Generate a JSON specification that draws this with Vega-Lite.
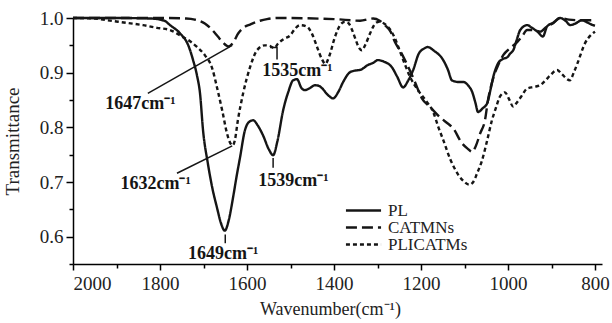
{
  "$schema": "https://vega.github.io/schema/vega-lite/v6.json",
  "width": 529,
  "height": 246,
  "autosize": {"type": "none"},
  "padding": {"left": 73, "top": 18, "right": 10, "bottom": 59},
  "background": "white",
  "config": {
    "view": {"stroke": null},
    "axis": {"grid": false, "labelFont": "Liberation Serif", "titleFont": "Liberation Serif", "titleFontWeight": "normal"}
  },
  "datasets": {
    "series": [
      {"w": 2000, "t": 1.0, "s": "PL"}, {"w": 1900, "t": 1.0, "s": "PL"}, {"w": 1820, "t": 0.999, "s": "PL"}, {"w": 1790, "t": 0.995, "s": "PL"}, {"w": 1777, "t": 0.987, "s": "PL"}, {"w": 1754, "t": 0.972, "s": "PL"}, {"w": 1735, "t": 0.95, "s": "PL"}, {"w": 1724, "t": 0.923, "s": "PL"}, {"w": 1715, "t": 0.895, "s": "PL"}, {"w": 1708, "t": 0.862, "s": "PL"}, {"w": 1701, "t": 0.794, "s": "PL"}, {"w": 1690, "t": 0.734, "s": "PL"}, {"w": 1680, "t": 0.69, "s": "PL"}, {"w": 1669, "t": 0.653, "s": "PL"}, {"w": 1660, "t": 0.625, "s": "PL"}, {"w": 1651, "t": 0.611, "s": "PL"}, {"w": 1642, "t": 0.63, "s": "PL"}, {"w": 1632, "t": 0.672, "s": "PL"}, {"w": 1624, "t": 0.71, "s": "PL"}, {"w": 1616, "t": 0.745, "s": "PL"}, {"w": 1605, "t": 0.794, "s": "PL"}, {"w": 1595, "t": 0.81, "s": "PL"}, {"w": 1586, "t": 0.813, "s": "PL"}, {"w": 1575, "t": 0.803, "s": "PL"}, {"w": 1563, "t": 0.785, "s": "PL"}, {"w": 1550, "t": 0.76, "s": "PL"}, {"w": 1540, "t": 0.749, "s": "PL"}, {"w": 1530, "t": 0.775, "s": "PL"}, {"w": 1517, "t": 0.831, "s": "PL"}, {"w": 1505, "t": 0.865, "s": "PL"}, {"w": 1494, "t": 0.886, "s": "PL"}, {"w": 1485, "t": 0.888, "s": "PL"}, {"w": 1475, "t": 0.872, "s": "PL"}, {"w": 1467, "t": 0.868, "s": "PL"}, {"w": 1455, "t": 0.872, "s": "PL"}, {"w": 1444, "t": 0.877, "s": "PL"}, {"w": 1435, "t": 0.876, "s": "PL"}, {"w": 1428, "t": 0.872, "s": "PL"}, {"w": 1415, "t": 0.86, "s": "PL"}, {"w": 1402, "t": 0.853, "s": "PL"}, {"w": 1390, "t": 0.865, "s": "PL"}, {"w": 1379, "t": 0.883, "s": "PL"}, {"w": 1363, "t": 0.901, "s": "PL"}, {"w": 1350, "t": 0.904, "s": "PL"}, {"w": 1340, "t": 0.905, "s": "PL"}, {"w": 1322, "t": 0.914, "s": "PL"}, {"w": 1310, "t": 0.918, "s": "PL"}, {"w": 1299, "t": 0.923, "s": "PL"}, {"w": 1285, "t": 0.92, "s": "PL"}, {"w": 1267, "t": 0.91, "s": "PL"}, {"w": 1255, "t": 0.893, "s": "PL"}, {"w": 1241, "t": 0.873, "s": "PL"}, {"w": 1230, "t": 0.885, "s": "PL"}, {"w": 1218, "t": 0.905, "s": "PL"}, {"w": 1205, "t": 0.935, "s": "PL"}, {"w": 1191, "t": 0.945, "s": "PL"}, {"w": 1185, "t": 0.947, "s": "PL"}, {"w": 1170, "t": 0.94, "s": "PL"}, {"w": 1149, "t": 0.923, "s": "PL"}, {"w": 1138, "t": 0.905, "s": "PL"}, {"w": 1129, "t": 0.886, "s": "PL"}, {"w": 1115, "t": 0.883, "s": "PL"}, {"w": 1103, "t": 0.883, "s": "PL"}, {"w": 1090, "t": 0.875, "s": "PL"}, {"w": 1083, "t": 0.866, "s": "PL"}, {"w": 1075, "t": 0.845, "s": "PL"}, {"w": 1069, "t": 0.828, "s": "PL"}, {"w": 1058, "t": 0.835, "s": "PL"}, {"w": 1048, "t": 0.844, "s": "PL"}, {"w": 1040, "t": 0.87, "s": "PL"}, {"w": 1034, "t": 0.892, "s": "PL"}, {"w": 1023, "t": 0.917, "s": "PL"}, {"w": 1012, "t": 0.925, "s": "PL"}, {"w": 1002, "t": 0.928, "s": "PL"}, {"w": 995, "t": 0.935, "s": "PL"}, {"w": 988, "t": 0.941, "s": "PL"}, {"w": 980, "t": 0.96, "s": "PL"}, {"w": 972, "t": 0.978, "s": "PL"}, {"w": 956, "t": 0.987, "s": "PL"}, {"w": 945, "t": 0.982, "s": "PL"}, {"w": 931, "t": 0.974, "s": "PL"}, {"w": 920, "t": 0.966, "s": "PL"}, {"w": 910, "t": 0.985, "s": "PL"}, {"w": 897, "t": 0.991, "s": "PL"}, {"w": 880, "t": 1.0, "s": "PL"}, {"w": 868, "t": 0.995, "s": "PL"}, {"w": 857, "t": 0.987, "s": "PL"}, {"w": 845, "t": 0.99, "s": "PL"}, {"w": 830, "t": 0.996, "s": "PL"}, {"w": 818, "t": 0.992, "s": "PL"}, {"w": 805, "t": 0.987, "s": "PL"}, {"w": 800, "t": 0.986, "s": "PL"},
      {"w": 2000, "t": 1.0, "s": "CATMNs"}, {"w": 1800, "t": 1.0, "s": "CATMNs"}, {"w": 1740, "t": 0.999, "s": "CATMNs"}, {"w": 1720, "t": 0.997, "s": "CATMNs"}, {"w": 1697, "t": 0.99, "s": "CATMNs"}, {"w": 1680, "t": 0.978, "s": "CATMNs"}, {"w": 1667, "t": 0.966, "s": "CATMNs"}, {"w": 1655, "t": 0.955, "s": "CATMNs"}, {"w": 1643, "t": 0.948, "s": "CATMNs"}, {"w": 1632, "t": 0.955, "s": "CATMNs"}, {"w": 1620, "t": 0.972, "s": "CATMNs"}, {"w": 1605, "t": 0.984, "s": "CATMNs"}, {"w": 1593, "t": 0.988, "s": "CATMNs"}, {"w": 1570, "t": 0.995, "s": "CATMNs"}, {"w": 1554, "t": 0.998, "s": "CATMNs"}, {"w": 1530, "t": 1.0, "s": "CATMNs"}, {"w": 1400, "t": 0.998, "s": "CATMNs"}, {"w": 1340, "t": 0.995, "s": "CATMNs"}, {"w": 1310, "t": 0.999, "s": "CATMNs"}, {"w": 1295, "t": 0.995, "s": "CATMNs"}, {"w": 1283, "t": 0.987, "s": "CATMNs"}, {"w": 1270, "t": 0.975, "s": "CATMNs"}, {"w": 1260, "t": 0.956, "s": "CATMNs"}, {"w": 1248, "t": 0.94, "s": "CATMNs"}, {"w": 1237, "t": 0.923, "s": "CATMNs"}, {"w": 1225, "t": 0.903, "s": "CATMNs"}, {"w": 1214, "t": 0.883, "s": "CATMNs"}, {"w": 1198, "t": 0.853, "s": "CATMNs"}, {"w": 1179, "t": 0.837, "s": "CATMNs"}, {"w": 1156, "t": 0.818, "s": "CATMNs"}, {"w": 1140, "t": 0.808, "s": "CATMNs"}, {"w": 1126, "t": 0.798, "s": "CATMNs"}, {"w": 1106, "t": 0.771, "s": "CATMNs"}, {"w": 1093, "t": 0.761, "s": "CATMNs"}, {"w": 1082, "t": 0.755, "s": "CATMNs"}, {"w": 1074, "t": 0.766, "s": "CATMNs"}, {"w": 1064, "t": 0.789, "s": "CATMNs"}, {"w": 1053, "t": 0.813, "s": "CATMNs"}, {"w": 1046, "t": 0.85, "s": "CATMNs"}, {"w": 1034, "t": 0.89, "s": "CATMNs"}, {"w": 1022, "t": 0.915, "s": "CATMNs"}, {"w": 1011, "t": 0.932, "s": "CATMNs"}, {"w": 995, "t": 0.945, "s": "CATMNs"}, {"w": 979, "t": 0.956, "s": "CATMNs"}, {"w": 968, "t": 0.966, "s": "CATMNs"}, {"w": 956, "t": 0.978, "s": "CATMNs"}, {"w": 940, "t": 0.978, "s": "CATMNs"}, {"w": 926, "t": 0.975, "s": "CATMNs"}, {"w": 910, "t": 0.985, "s": "CATMNs"}, {"w": 897, "t": 0.99, "s": "CATMNs"}, {"w": 880, "t": 1.0, "s": "CATMNs"}, {"w": 860, "t": 0.997, "s": "CATMNs"}, {"w": 840, "t": 0.996, "s": "CATMNs"}, {"w": 820, "t": 0.996, "s": "CATMNs"}, {"w": 800, "t": 0.996, "s": "CATMNs"},
      {"w": 2000, "t": 1.0, "s": "PLICATMs"}, {"w": 1950, "t": 0.999, "s": "PLICATMs"}, {"w": 1922, "t": 0.996, "s": "PLICATMs"}, {"w": 1876, "t": 0.991, "s": "PLICATMs"}, {"w": 1839, "t": 0.987, "s": "PLICATMs"}, {"w": 1807, "t": 0.982, "s": "PLICATMs"}, {"w": 1777, "t": 0.978, "s": "PLICATMs"}, {"w": 1747, "t": 0.965, "s": "PLICATMs"}, {"w": 1730, "t": 0.957, "s": "PLICATMs"}, {"w": 1715, "t": 0.947, "s": "PLICATMs"}, {"w": 1697, "t": 0.932, "s": "PLICATMs"}, {"w": 1680, "t": 0.908, "s": "PLICATMs"}, {"w": 1669, "t": 0.873, "s": "PLICATMs"}, {"w": 1657, "t": 0.831, "s": "PLICATMs"}, {"w": 1646, "t": 0.789, "s": "PLICATMs"}, {"w": 1639, "t": 0.772, "s": "PLICATMs"}, {"w": 1633, "t": 0.767, "s": "PLICATMs"}, {"w": 1628, "t": 0.776, "s": "PLICATMs"}, {"w": 1621, "t": 0.813, "s": "PLICATMs"}, {"w": 1609, "t": 0.862, "s": "PLICATMs"}, {"w": 1593, "t": 0.91, "s": "PLICATMs"}, {"w": 1577, "t": 0.941, "s": "PLICATMs"}, {"w": 1559, "t": 0.95, "s": "PLICATMs"}, {"w": 1548, "t": 0.949, "s": "PLICATMs"}, {"w": 1537, "t": 0.945, "s": "PLICATMs"}, {"w": 1529, "t": 0.953, "s": "PLICATMs"}, {"w": 1515, "t": 0.962, "s": "PLICATMs"}, {"w": 1501, "t": 0.968, "s": "PLICATMs"}, {"w": 1490, "t": 0.98, "s": "PLICATMs"}, {"w": 1478, "t": 0.987, "s": "PLICATMs"}, {"w": 1462, "t": 0.984, "s": "PLICATMs"}, {"w": 1450, "t": 0.97, "s": "PLICATMs"}, {"w": 1439, "t": 0.947, "s": "PLICATMs"}, {"w": 1428, "t": 0.925, "s": "PLICATMs"}, {"w": 1420, "t": 0.916, "s": "PLICATMs"}, {"w": 1411, "t": 0.93, "s": "PLICATMs"}, {"w": 1398, "t": 0.965, "s": "PLICATMs"}, {"w": 1385, "t": 0.988, "s": "PLICATMs"}, {"w": 1375, "t": 0.993, "s": "PLICATMs"}, {"w": 1366, "t": 0.99, "s": "PLICATMs"}, {"w": 1358, "t": 0.977, "s": "PLICATMs"}, {"w": 1350, "t": 0.96, "s": "PLICATMs"}, {"w": 1343, "t": 0.946, "s": "PLICATMs"}, {"w": 1336, "t": 0.941, "s": "PLICATMs"}, {"w": 1328, "t": 0.951, "s": "PLICATMs"}, {"w": 1317, "t": 0.972, "s": "PLICATMs"}, {"w": 1305, "t": 0.99, "s": "PLICATMs"}, {"w": 1297, "t": 0.993, "s": "PLICATMs"}, {"w": 1285, "t": 0.99, "s": "PLICATMs"}, {"w": 1272, "t": 0.98, "s": "PLICATMs"}, {"w": 1260, "t": 0.963, "s": "PLICATMs"}, {"w": 1248, "t": 0.938, "s": "PLICATMs"}, {"w": 1236, "t": 0.913, "s": "PLICATMs"}, {"w": 1225, "t": 0.892, "s": "PLICATMs"}, {"w": 1207, "t": 0.868, "s": "PLICATMs"}, {"w": 1190, "t": 0.85, "s": "PLICATMs"}, {"w": 1172, "t": 0.828, "s": "PLICATMs"}, {"w": 1160, "t": 0.8, "s": "PLICATMs"}, {"w": 1149, "t": 0.777, "s": "PLICATMs"}, {"w": 1133, "t": 0.742, "s": "PLICATMs"}, {"w": 1115, "t": 0.714, "s": "PLICATMs"}, {"w": 1100, "t": 0.7, "s": "PLICATMs"}, {"w": 1089, "t": 0.695, "s": "PLICATMs"}, {"w": 1080, "t": 0.7, "s": "PLICATMs"}, {"w": 1071, "t": 0.716, "s": "PLICATMs"}, {"w": 1060, "t": 0.739, "s": "PLICATMs"}, {"w": 1048, "t": 0.776, "s": "PLICATMs"}, {"w": 1037, "t": 0.813, "s": "PLICATMs"}, {"w": 1029, "t": 0.833, "s": "PLICATMs"}, {"w": 1018, "t": 0.857, "s": "PLICATMs"}, {"w": 1007, "t": 0.864, "s": "PLICATMs"}, {"w": 998, "t": 0.852, "s": "PLICATMs"}, {"w": 988, "t": 0.838, "s": "PLICATMs"}, {"w": 980, "t": 0.845, "s": "PLICATMs"}, {"w": 970, "t": 0.856, "s": "PLICATMs"}, {"w": 956, "t": 0.871, "s": "PLICATMs"}, {"w": 940, "t": 0.874, "s": "PLICATMs"}, {"w": 926, "t": 0.877, "s": "PLICATMs"}, {"w": 915, "t": 0.885, "s": "PLICATMs"}, {"w": 903, "t": 0.895, "s": "PLICATMs"}, {"w": 887, "t": 0.905, "s": "PLICATMs"}, {"w": 876, "t": 0.897, "s": "PLICATMs"}, {"w": 858, "t": 0.886, "s": "PLICATMs"}, {"w": 849, "t": 0.9, "s": "PLICATMs"}, {"w": 840, "t": 0.918, "s": "PLICATMs"}, {"w": 823, "t": 0.954, "s": "PLICATMs"}, {"w": 808, "t": 0.97, "s": "PLICATMs"}, {"w": 800, "t": 0.975, "s": "PLICATMs"}
    ],
    "leaders": [
      {"id": "a", "k": 1, "w": 1828, "t": 0.862}, {"id": "a", "k": 2, "w": 1634, "t": 0.95},
      {"id": "b", "k": 1, "w": 1761, "t": 0.716}, {"id": "b", "k": 2, "w": 1634, "t": 0.766},
      {"id": "c", "k": 1, "w": 1650, "t": 0.604}, {"id": "c", "k": 2, "w": 1650, "t": 0.588},
      {"id": "d", "k": 1, "w": 1540, "t": 0.744}, {"id": "d", "k": 2, "w": 1540, "t": 0.726},
      {"id": "e", "k": 1, "w": 1547, "t": 0.946}, {"id": "e", "k": 2, "w": 1531, "t": 0.946}, {"id": "e", "k": 3, "w": 1531, "t": 0.924}
    ],
    "labels": [
      {"label": "1647cm⁻¹", "w": 1845, "t": 0.842},
      {"label": "1632cm⁻¹", "w": 1810, "t": 0.697},
      {"label": "1649cm⁻¹", "w": 1655, "t": 0.568},
      {"label": "1539cm⁻¹", "w": 1493, "t": 0.702},
      {"label": "1535cm⁻¹", "w": 1484, "t": 0.903}
    ]
  },
  "layer": [
    {
      "data": {"name": "series"},
      "mark": {"type": "line", "strokeWidth": 2.4, "color": "#151515", "interpolate": "monotone"},
      "encoding": {
        "x": {"field": "w", "type": "quantitative", "scale": {"domain": [784, 2000], "reverse": true, "nice": false, "zero": false},
              "axis": {"orient": "bottom", "values": [2000, 1800, 1600, 1400, 1200, 1000, 800], "format": "d", "domainColor": "black", "domainWidth": 1.5, "tickColor": "black", "tickWidth": 1.5,
                       "tickSize": 6, "labelPadding": 4, "labelFontSize": 19, "labelColor": "#222", "title": "Wavenumber(cm⁻¹)", "titleColor": "#222", "titleFontSize": 18, "titleX": 257, "titleY": 50, "titleBaseline": "alphabetic"}},
        "y": {"field": "t", "type": "quantitative", "scale": {"domain": [0.55, 1.0], "nice": false, "zero": false},
              "axis": {"orient": "left", "values": [0.6, 0.7, 0.8, 0.9, 1.0], "format": ".1f", "domainColor": "black", "domainWidth": 1.5, "tickColor": "black", "tickWidth": 1.5,
                       "tickSize": 7, "labelPadding": 3, "labelFontSize": 19, "labelColor": "#222", "title": "Transmittance", "titleColor": "#222", "titleFontSize": 19, "titleX": -61, "titleY": 123, "titleBaseline": "middle"}},
        "strokeDash": {"field": "s", "type": "nominal", "scale": {"domain": ["PL", "CATMNs", "PLICATMs"], "range": [[1, 0], [11, 5], [4, 3]]},
          "legend": {"title": null, "orient": "none", "legendX": 282, "legendY": 184, "padding": 0, "symbolType": "M-2.7,0H2.7", "symbolSize": 169, "symbolStrokeWidth": 2.5, "symbolStrokeColor": "#151515", "labelFont": "Liberation Serif", "labelFontSize": 17, "labelColor": "#222", "labelOffset": 16, "rowPadding": -8}}
      }
    },
    {
      "data": {"name": "leaders"},
      "mark": {"type": "line", "strokeWidth": 1.5, "color": "#151515"},
      "encoding": {
        "x": {"field": "w", "type": "quantitative", "axis": {"orient": "bottom", "values": [1900, 1700, 1500, 1300, 1100, 900], "labels": false, "domain": false, "tickColor": "black", "tickWidth": 1.5, "tickSize": 4, "title": null}},
        "y": {"field": "t", "type": "quantitative", "axis": {"orient": "left", "values": [0.55, 0.65, 0.75, 0.85, 0.95], "labels": false, "domain": false, "tickColor": "black", "tickWidth": 1.5, "tickSize": 4, "title": null}},
        "detail": {"field": "id"},
        "order": {"field": "k", "type": "quantitative"}
      }
    },
    {
      "data": {"name": "labels"},
      "mark": {"type": "text", "font": "Liberation Serif", "fontWeight": "bold", "fontSize": 18, "color": "#151515", "align": "center", "baseline": "middle"},
      "encoding": {
        "x": {"field": "w", "type": "quantitative", "axis": null},
        "y": {"field": "t", "type": "quantitative", "axis": null},
        "text": {"field": "label"}
      }
    }
  ],
  "resolve": {"axis": {"x": "independent", "y": "independent"}}
}
